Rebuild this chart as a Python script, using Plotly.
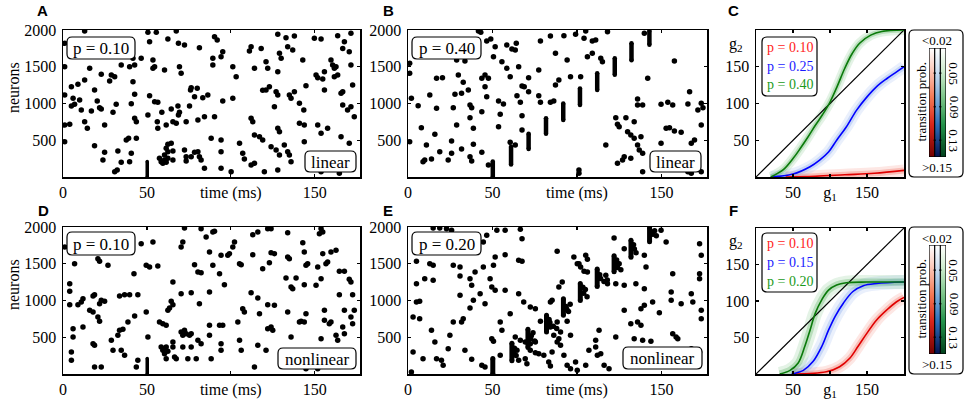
import plotly.graph_objects as go

W, H = 964, 399

# ---------------- data ----------------
A_spikes = [
(12.9,1986),(50.6,1968),(55.6,1968),(67.5,1986),(90.3,1909),(91.9,1864),(128,1941),(132.9,1896),(137.9,1918),(149.8,1887),(153.8,1877),(163.7,1923),(167.7,1841),(171.6,1955),(1,1819),(51.6,1841),(62.5,1877),(68.8,1819),(72.4,1796),(81.3,1760),(95.2,1705),(94.2,1637),(112.1,1773),(111.1,1714),(118.1,1750),(129,1683),(133.9,1773),(136.9,1728),(130,1614),(142.9,1592),(166.7,1750),(170.6,1705),(159.7,1592),
(41.7,1614),(46.6,1614),(53.6,1592),(54.6,1501),(53.6,1478),(89.3,1614),(89.3,1524),(121,1569),(122,1478),(160.7,1524),(162.7,1501),(161.7,1478),(171.6,1524),(1,1501),(15.9,1478),(34.7,1524),(39.7,1501),(42.7,1524),(60.5,1456),(69.4,1501),(70.4,1410),(101.2,1501),(114.1,1478),(128,1433),(103.2,1365),
(22.8,1397),(28.8,1388),(30.8,1365),(27.8,1306),(12.9,1320),(8.9,1261),(5,1229),(18.8,1184),(41.7,1297),(76.4,1215),(80,1206),(76,1184),(78.4,1093),(83.3,1079),(123,1229),(121,1184),(127,1161),(128,1116),(144.8,1243),(150.8,1388),(151.8,1351),(155.8,1433),(154.8,1333),(161.7,1365),(163.7,1388),(166.7,1161),(165.7,1138),(172.6,1252),
(1,1116),(6,1070),(6.9,989),(5,966),(9.9,1048),(10.9,912),(16.9,898),(20.4,1034),(21.8,943),(22.8,925),(29.8,880),(31.7,989),(42.7,1125),(40.7,998),(51.6,1107),(54.6,1025),(56.5,1016),(58.9,880),(64.5,925),(68.5,966),(69.4,880),(75.4,966),(86.3,1116),(95.2,1034),(101.2,1070),(119,1179),(126,957),(134.9,1116),(135.9,1070),(137.9,1161),(140.9,1002),(143.5,912),(155.8,1184),(166.7,980),(171.6,957),(169.6,912),
(1,707),(4,717),(12.9,753),(14.5,662),(24.8,707),(42.7,798),(43.7,753),(50.6,844),(56.2,753),(56.5,662),(61.5,707),(65.5,753),(67.5,730),(68.8,844),(73.4,753),(80.4,775),(84.3,821),(90.3,821),(112.1,798),(113.1,753),(128,662),(129,617),(140.9,730),(143.8,707),(151.8,707),(153.8,594),(157.7,662),(173.6,821),
(1,481),(18.8,426),(24.8,336),(32.7,354),(37.7,503),(39.1,526),(43.7,526),(61.5,390),(62.5,444),(64.5,458),(62.5,345),(65.5,354),(60.5,299),(72.4,367),(78.4,336),(80.4,345),(88.3,526),(94.2,503),(94.2,345),(105.2,458),(114.1,571),(117.1,549),(119,503),(124,413),(127,367),(129,299),(131.9,435),(133.9,345),(134.9,299),(143.8,481),(165.7,549),(170.6,458),
(23.8,231),(30.8,73),(32.3,95),(34.7,200),(40.7,322),(39.7,209),(57.5,254),(58.5,209),(60.5,231),(59.5,186),(61.5,200),(62.5,254),(65.5,231),(73.4,277),(73.4,218),(76.4,277),(81.3,277),(82.3,231),(84.3,118),(94.2,118),(100.2,73),(107.1,322),(108.1,245),(112.1,163),(114.1,186),(120,73),(128,95),(135.9,209),(153.8,73),(164.7,50),(170.6,141)
]
A_packets = [(50.2, 0, 210)]

B_spikes = [
(41.7,1986),(43.1,1968),(46.6,1850),(49,1877),(58.5,1796),(61.5,1741),(64.1,1819),(63.5,1728),(51.6,1773),(78.4,1850),(84.3,1918),(92.3,1923),(99.2,1941),(104.2,1887),(105.2,1986),(109.1,1850),(111.1,1864),(118.1,1977),(139.9,1955),(157.7,1578),(87.3,1683),(94.2,1592),(106.2,1637),(109.1,1683),(114.1,1614),(115.1,1569),(50.6,1637),(55.6,1569),(28.8,1592),(33.7,1578),(1,1546),(1,1410),
(29.8,1388),(45.6,1388),(43.7,1342),(47.6,1342),(58.5,1478),(65.5,1501),(60.5,1365),(71.4,1351),(77.4,1456),(89.3,1320),(87.3,1252),(96.2,1365),(102.2,1365),(141.9,1342),(16.9,1342),(20.4,1351),(32.7,1288),(35.7,1184),(45.6,1229),(67.5,1238),(68.8,1229),(71.4,1161),(77.4,1107),(84.3,1016),(86.3,1034),
(2,1070),(12.9,1116),(27.8,1125),(31.7,1138),(46.6,1093),(53.6,1034),(56.5,993),(64.5,1107),(66.5,1016),(78.4,1016),(166.7,1161),(135.9,1061),(138.9,980),(135.9,980),(149.8,989),(153.8,1016),(156.7,980),(165.7,993),(173.6,1002),(174.6,943),(171.6,912),
(6,970),(16.9,934),(26.8,943),(36.7,980),(37.7,943),(43.7,889),(54.6,853),(67.5,834),(36.7,807),(38.7,662),(53.6,685),(28.8,707),(7.9,671),(15.9,580),(25.8,490),(38.7,444),(31.7,381),(43.7,336),(60.5,472),(63.5,435),(67.5,639),(10.9,435),(18.8,345),(25.8,322),(9.9,231),(8.9,209),(13.9,245),(23.8,231),(36.7,277),(37.7,218),(47.6,163),
(117.1,435),(123,807),(124,717),(125,685),(129,807),(130,617),(133.9,753),(131.9,571),(133.9,526),(137.9,549),(135.9,435),(136.9,367),(138.9,322),(128,277),(124,186),(127,231),(131.9,254),(149.8,458),(167.7,458),(169.6,503),(154.8,671),(157.7,626),(161.7,608),(152.8,662),(173.6,707),(101.2,95),(101.2,50),(138.9,73),(165.7,73),(167.7,50),(173.6,73),(1,481)
]
B_packets = [(50.2,0,210),(61,170,410),(71.4,380,590),(81.7,590,800),(91.9,775,1000),
             (101.8,980,1205),(112,1185,1410),(122.4,1390,1615),(132.3,1590,1820),(142.9,1800,1990)]

D_spikes = [
(1,1728),(6.9,1501),(20.8,1569),(21.8,1533),(26.8,1478),(42.3,1365),(46.6,1773),(53.6,1796),(49.6,1478),(51.6,1456),(56.5,1469),(72.4,1986),(71.4,1796),(70.4,1728),(65.5,1252),(82.3,1977),(85.3,1864),(89.3,1932),(90.3,1941),(87.3,1660),(94.2,1614),(98.2,1614),(99.2,1637),(101.2,1728),(102.2,1796),(113.1,1896),(116.1,1932),(122,1977),(124,1977),(133.9,1923),(153.8,1977),(154.8,1932),(152.8,1909),(142.9,1787),(143.8,1660),(154.8,1637),(159.7,1660),(162.7,1683),(133.9,1592),(134.9,1569),(124,1651),(126,1637),(113.1,1624),
(78.4,1487),(80.4,1388),(82.3,1379),(89.3,1478),(93.3,1365),(96.2,1215),(105.2,1501),(106.2,1487),(119,1433),(123,1515),(132.9,1306),(138.9,1306),(135.9,1184),(136.9,1161),(144.8,1478),(145.8,1501),(151.8,1456),(150.8,1206),(143.8,1215),(156.7,1501),(157.7,1524),(164.7,1397),(167.7,1397),(170.6,1288),(171.6,1252),(153.8,1297),(164.7,1079),(172.6,1079),
(4,1229),(4,1125),(18.8,1079),(17.9,1061),(24.8,989),(22.8,1002),(21.8,957),(11.9,1025),(10.9,980),(8.9,943),(4,943),(33.7,1061),(36.7,1079),(39.7,1079),(44.6,1079),(64.5,989),(65.5,943),(70.4,1093),(76.4,1107),(87.3,1116),(81.3,957),(63.5,898),(62.5,866),(49.6,844),(112.1,1107),(116.1,1034),(122,943),(126,934),(133.9,844),(144.8,821),(155.8,866),(167.7,866),(173.6,866),(171.6,775),
(15.9,866),(17.9,844),(20.8,775),(21.8,717),(6,617),(11.9,639),(6,503),(38.7,707),(33.7,594),(32.7,526),(28.8,458),(35.7,608),(42.7,789),(57.5,707),(59.5,685),(61.5,662),(50.6,503),(72.4,594),(70.4,571),(71.4,526),(75.4,526),(73.4,549),(76.4,549),(87.3,662),(93.3,662),(95.2,662),(87.3,526),(104.2,707),(108.1,844),(107.1,889),(117.1,821),(122,617),(124,639),(125,594),(135.9,503),(141.9,717),(143.8,707),(140.9,707),(155.8,730),(158.7,685),(159.7,707),(166.7,639),(162.7,526),(167.7,549),(172.6,685),(163.7,458),(153.8,481),
(105.2,458),(106.2,322),(116.1,390),(121,322),(94.2,413),(80.4,458),(82.3,413),(65.5,435),(65.5,367),(71.4,367),(76.4,367),(58.5,367),(59.5,322),(60.5,277),(61.5,209),(61.5,367),(60,345),(62.5,308),(66.5,231),(67.5,209),(74.4,209),(79.4,209),(88.3,209),(94.2,322),(17.9,413),(18.8,390),(5,299),(5,186),(29.8,322),(34.7,322),(36.7,254),(44.6,186),(43.7,95),(18.8,95),(22.8,95),(114.1,95),(144.8,73),(151.8,73)
]
D_packets = [(50.2, 0, 210)]

E_spikes = [
(14.9,1986),(18.8,1986),(22.8,1977),(25.8,1955),(46.6,1887),(52.6,1955),(57.5,1955),(66.5,1968),(67.5,1841),(65.5,1546),(67.5,1533),(57.5,1624),(51.6,1592),(50.6,1478),(44.6,1796),(44.6,1456),(39.7,1388),(12.9,1501),(14.9,1478),(5,1533),(26.8,1478),(30.8,1456),(30.8,1333),(36.7,1297),(5,1229),(9.9,1297),(14.9,1274),(37.7,1206),(42.7,1093),(48.6,1297),(49.6,1184),(51.6,1138),(57.5,1138),
(45.6,957),(38.7,1002),(30.8,1070),(36.7,898),(32.7,753),(31.7,707),(26.8,707),(60.5,821),(54.6,707),(55.6,594),(65.5,1093),(68.5,980),(72.4,912),(75.4,889),(78.4,717),(85.3,1002),(84.3,980),(91.3,1252),(89.3,1184),(88.3,1669),(98.2,1592),(101.2,1501),(102.2,1456),(105.2,1614),(106.2,1560),(104.2,1397),(106.2,1388),(100.2,1501),
(122,1850),(128,1705),(124,1501),(128,1206),(117.1,1342),(118.1,1229),(123,1229),(134.9,1229),(139.9,1161),(140.9,1456),(139.9,1614),(152.8,1796),(149.8,1955),(156.7,1365),(155.8,1116),(161.7,957),(167.7,1093),(168.6,980),(172.6,1773),(173.6,1614),(172.6,1365),(172.6,1297),(173.6,866),(173.6,753),(155.8,1002),(144.8,980),(139.9,934),(148.8,834),(137.9,889),(128,866),(135.9,707),(137.9,662),(131.9,685),(133.9,481),(138.9,458),(143.8,444),(156.7,549),(158.7,503),(159.7,481),(167.7,345),(156.7,299),(172.6,299),
(5,980),(6.9,989),(3,775),(6.9,753),(13.9,594),(15.9,435),(24.8,526),(23.8,345),(8.9,209),(16.9,209),(19.8,186),(20.8,118),(3,299),(2,27),(33.7,322),(37.7,200),(43.7,118),(45.6,95),(49.6,481),(50.6,444),(54.6,254),
(63.5,503),(66.5,458),(69.4,435),(72.4,413),(75.4,435),(64.5,322),(65.5,186),(69.4,209),(70.4,141),(72.4,322),(75.4,290),(77.4,277),(80.4,254),(83.3,163),(84.3,109),(85.3,299),(88.3,435),(90.3,390),(92.3,254),(94.2,118),(96.2,73),(99.2,163),(100.2,50),(105.2,118),(107.1,322),(111.1,367),(112.1,254),(114.1,277),(116.1,118),(119,73),(89.3,481),(113.1,594),(123,503),(84.3,639),(86.3,526),(88.3,707),(94.2,717),(96.2,526),(90.3,571),(111.1,458),
(63,350),(64,250),(62.5,300),(73,520),(75,450),(74,560),(72.5,480),(84,700),(86,650),(88,620),(83.5,740),(94,880),(96,950),(95,850),(93.5,920),(104,1100),(106,1050),(105,1150),(103.5,1180),(114,1300),(116,1260),(118,1280),(113.5,1350),(124,1450),(126,1420),(125,1500),(123.5,1550),(134,1700),(135,1650),(133.5,1760),(145,1900),(147,1880),(146,1950),(144.5,1930)
]
E_packets = [(50.2,0,210),(61.5,180,420),(71,360,610),(82,570,800),(92,800,1025),
             (102,1000,1230),(112,1190,1430),(122,1390,1610),(132,1590,1820),(143,1800,1990)]

raster_xticks = [0, 50, 100, 150]
raster_xticktext = ['0', '50', 'time (ms)', '150']
raster_yticks = [500, 1000, 1500, 2000]

# g1 -> g2 transfer curves
diag = [0, 200]
C_red_g1 = [40, 80, 120, 160, 200]
C_red_g2 = [0, 1, 3, 5, 9]
C_blue_g1 = [20, 50, 73, 86, 98, 109, 122, 136, 150, 163, 177, 190, 200]
C_blue_g2 = [0, 4, 14, 23, 34, 50, 68, 91, 109, 123, 134, 143, 150]
C_green_g1 = [20, 37, 50, 60, 70, 80, 90, 100, 110, 120, 130, 140, 155, 170, 200]
C_green_g2 = [0, 10, 25, 39, 54, 70, 85, 102, 124, 148, 168, 182, 193, 198, 200]
C_labels = ['p = 0.10', 'p = 0.25', 'p = 0.40']

F_red_g1 = [50, 95, 113, 127, 138, 150, 163, 177, 190, 200]
F_red_g2 = [0, 3, 10, 22, 38, 56, 74, 88, 99, 105]
F_blue_g1 = [48, 64, 77, 89, 98, 107, 118, 131, 145, 163, 200]
F_blue_g2 = [0, 5, 17, 38, 60, 79, 97, 113, 121, 124, 126]
F_green_g1 = [32, 46, 57, 66, 73, 80, 89, 98, 109, 122, 150, 200]
F_green_g2 = [0, 5, 15, 38, 60, 83, 102, 115, 122, 125, 126, 126]
F_labels = ['p = 0.10', 'p = 0.15', 'p = 0.20']

g_ticks = [50, 100, 150]
g_xticktext = ['50', 'g<sub>1</sub>', '150']
g_yticktext = ['50', '100', '150']

cbar_levels = [0.02, 0.03, 0.04, 0.05, 0.06, 0.07, 0.08, 0.09, 0.10, 0.11, 0.12, 0.13, 0.14, 0.15]
cbar_ticks = [0.05, 0.09, 0.13]
cbar_ticktext = ['0.05', '0.09', '0.13']

# ---------------- styling ----------------
SERIF = "Liberation Serif, Times New Roman, serif"
SANS = "Liberation Sans, Arial, sans-serif"
TICKFONT = dict(family=SERIF, size=16, color='black')

RED, BLUE, GREEN = '#e00000', '#0000ff', '#0a7a0a'
RED_T, BLUE_T, GREEN_T = '#ff1a1a', '#1a1aff', '#1a9a1a'

red_scale = [[0, '#ffffff'], [0.2, '#fcc8b8'], [0.45, '#f37a55'], [0.7, '#d8261a'], [1, '#6e0000']]
blue_scale = [[0, '#ffffff'], [0.2, '#cfe0f2'], [0.45, '#7fb0dc'], [0.7, '#2c6eb8'], [1, '#03104e']]
green_scale = [[0, '#ffffff'], [0.2, '#cfeccf'], [0.45, '#7cc589'], [0.7, '#23924a'], [1, '#003d1a']]


def px(x):
    return x / W


def py(y):
    return 1 - y / H


def rrect(x0, y0, x1, y1, r=5, lw=1.2, layer='above'):
    p = (f"M {px(x0+r)},{py(y0)} L {px(x1-r)},{py(y0)} Q {px(x1)},{py(y0)} {px(x1)},{py(y0+r)} "
         f"L {px(x1)},{py(y1-r)} Q {px(x1)},{py(y1)} {px(x1-r)},{py(y1)} "
         f"L {px(x0+r)},{py(y1)} Q {px(x0)},{py(y1)} {px(x0)},{py(y1-r)} "
         f"L {px(x0)},{py(y0+r)} Q {px(x0)},{py(y0)} {px(x0+r)},{py(y0)} Z")
    return dict(type='path', xref='paper', yref='paper', path=p, fillcolor='white',
                line=dict(color='black', width=lw), layer=layer)


fig = go.Figure()
shapes = []
annotations = []


def ann(text, x, y, size=16, color='black', family=SERIF, xanchor='center', angle=0, yref='paper'):
    annotations.append(dict(text=text, x=px(x), y=(py(y) if yref == 'paper' else y), xref='paper', yref=yref,
                            showarrow=False, xanchor=xanchor, yanchor='middle', textangle=angle,
                            font=dict(family=family, size=size, color=color)))


def axis_common():
    return dict(showline=True, linecolor='black', linewidth=1.5, mirror='ticks', ticks='inside',
                ticklen=3, tickwidth=1.2, tickcolor='black', showgrid=False, zeroline=False,
                tickfont=TICKFONT, fixedrange=True, automargin=False)


def raster(i, dom_x, dom_y, spikes, packets, pw):
    xn = 'x' if i == 1 else f'x{i}'
    yn = 'y' if i == 1 else f'y{i}'
    fig.add_trace(go.Scatter(x=[s[0] for s in spikes], y=[s[1] for s in spikes], mode='markers',
                             marker=dict(size=5.5, color='black'), xaxis=xn, yaxis=yn, hoverinfo='skip'))
    for t, n0, n1 in packets:
        fig.add_trace(go.Scatter(x=[t, t], y=[n0, n1], mode='lines+markers',
                                 line=dict(color='black', width=pw), marker=dict(size=pw, color='black'),
                                 xaxis=xn, yaxis=yn, hoverinfo='skip'))
    xa = axis_common()
    xa.update(domain=dom_x, range=[0, 177], tickvals=raster_xticks, ticktext=raster_xticktext,
              anchor=yn, ticklabelstandoff=0)
    ya = axis_common()
    ya.update(domain=dom_y, range=[0, 2000], tickvals=raster_yticks, anchor=xn, ticklabelstandoff=2)
    fig.update_layout(**{('xaxis' if i == 1 else f'xaxis{i}'): xa,
                         ('yaxis' if i == 1 else f'yaxis{i}'): ya})


def transfer(i, dom_x, dom_y, curves):
    xn, yn = f'x{i}', f'y{i}'
    for g1, g2, col, band, bw in curves:
        fig.add_trace(go.Scatter(x=g1, y=g2, mode='lines', line=dict(color=band.format(0.13), width=bw, shape='spline'),
                                 xaxis=xn, yaxis=yn, hoverinfo='skip'))
        fig.add_trace(go.Scatter(x=g1, y=g2, mode='lines', line=dict(color=band.format(0.25), width=bw * 0.5, shape='spline'),
                                 xaxis=xn, yaxis=yn, hoverinfo='skip'))
    fig.add_trace(go.Scatter(x=diag, y=diag, mode='lines', line=dict(color='black', width=1.2),
                             xaxis=xn, yaxis=yn, hoverinfo='skip'))
    for g1, g2, col, band, bw in curves:
        fig.add_trace(go.Scatter(x=g1, y=g2, mode='lines', line=dict(color=col, width=1.6, shape='spline'),
                                 xaxis=xn, yaxis=yn, hoverinfo='skip'))
    xa = axis_common()
    xa.update(domain=dom_x, range=[0, 200], tickvals=g_ticks, ticktext=g_xticktext, anchor=yn,
              ticklabelstandoff=0)
    ya = axis_common()
    ya.update(domain=dom_y, range=[0, 200], tickvals=g_ticks, ticktext=g_yticktext, anchor=xn,
              ticklabelstandoff=2)
    fig.update_layout(**{f'xaxis{i}': xa, f'yaxis{i}': ya})


def cbar(i, dom_x, dom_y):
    xn, yn = f'x{i}', f'y{i}'
    for k, scale in enumerate([red_scale, blue_scale, green_scale]):
        fig.add_trace(go.Heatmap(x=[k], y=cbar_levels, z=[[v] for v in cbar_levels], colorscale=scale,
                                 zmin=0.02, zmax=0.15, showscale=False, zsmooth='best',
                                 xaxis=xn, yaxis=yn, hoverinfo='skip'))
    fig.update_layout(**{
        f'xaxis{i}': dict(domain=dom_x, range=[-0.5, 2.5], showticklabels=False, showgrid=False,
                          zeroline=False, showline=False, ticks='', anchor=yn, fixedrange=True,
                          automargin=False),
        f'yaxis{i}': dict(domain=dom_y, range=[0.15, 0.02], showticklabels=False, showgrid=False,
                          zeroline=False, showline=False, ticks='', anchor=xn, fixedrange=True,
                          automargin=False)})
    for v, t in zip(cbar_ticks, cbar_ticktext):
        ann(t, 954, v, size=13, angle=90, yref=yn)
    for xs in [-0.5, 0.5, 1.5, 2.5]:
        shapes.append(dict(type='line', xref=xn, yref=yn, x0=xs, x1=xs, y0=0.02, y1=0.15,
                           line=dict(color='black', width=1.2), layer='above'))
    for yv in [0.02, 0.15]:
        shapes.append(dict(type='line', xref=xn, yref=yn, x0=-0.5, x1=2.5, y0=yv, y1=yv,
                           line=dict(color='black', width=1.2), layer='above'))
    for yv in cbar_ticks:
        for xs in [0.5, 1.5]:
            shapes.append(dict(type='line', xref=xn, yref=yn, x0=xs - 0.18, x1=xs + 0.18, y0=yv, y1=yv,
                               line=dict(color='black', width=1.5), layer='above'))


# domains (paper fractions from pixel geometry)
XA = [px(63), px(360)]
XB = [px(408), px(707)]
XC = [px(756), px(904)]
YTOP = [py(177), py(30)]
YBOT = [py(374), py(227)]
YF = [py(374), py(228)]

# colorbar frames go below the heatmaps
shapes.append(rrect(909, 30, 963, 177, layer='below'))
shapes.append(rrect(909, 227, 963, 374, layer='below'))

raster(1, XA, YTOP, A_spikes, A_packets, 3.5)
raster(2, XB, YTOP, B_spikes, B_packets, 4.5)
raster(4, XA, YBOT, D_spikes, D_packets, 3.5)
raster(5, XB, YBOT, E_spikes, E_packets, 5)

band_r = 'rgba(240,70,50,{})'
band_b = 'rgba(90,140,230,{})'
band_g = 'rgba(50,160,60,{})'
transfer(3, XC, YTOP, [(C_red_g1, C_red_g2, RED, band_r, 12),
                       (C_blue_g1, C_blue_g2, BLUE, band_b, 12),
                       (C_green_g1, C_green_g2, GREEN, band_g, 10)])
transfer(6, XC, YF, [(F_red_g1, F_red_g2, RED, band_r, 12),
                     (F_blue_g1, F_blue_g2, BLUE, band_b, 14),
                     (F_green_g1, F_green_g2, GREEN, band_g, 14)])

cbar(7, [px(929), px(946)], [py(157), py(48)])
cbar(8, [px(929), px(946)], [py(354), py(245)])

# boxes & labels in raster panels
for (x0, y0, x1, y1, txt) in [(67, 37, 135, 59, 'p = 0.10'), (412, 37, 481, 59, 'p = 0.40'),
                              (67, 232, 135, 255, 'p = 0.10'), (412, 232, 481, 255, 'p = 0.20')]:
    shapes.append(rrect(x0, y0, x1, y1))
    ann(txt, (x0 + x1) / 2, (y0 + y1) / 2 + 0.5, size=17)
for (x0, y0, x1, y1, txt) in [(305, 151, 356, 172, 'linear'), (650, 151, 701, 172, 'linear'),
                              (278, 348, 356, 369, 'nonlinear'), (623, 347, 702, 369, 'nonlinear')]:
    shapes.append(rrect(x0, y0, x1, y1))
    ann(txt, (x0 + x1) / 2, (y0 + y1) / 2 + 0.5, size=17)

# legend boxes in transfer panels
for (y0, labels) in [(37, C_labels), (233, F_labels)]:
    shapes.append(rrect(762, y0, 817, y0 + 59))
    for k, (lab, col) in enumerate(zip(labels, [RED_T, BLUE_T, GREEN_T])):
        ann(lab, 765, y0 + 10 + k * 19, size=14, color=col, xanchor='left')

# colorbar labels
for (s0, s1) in [(48, 157), (245, 354)]:
    ann('&lt;0.02', 937, s0 - 7, size=13)
    ann('&gt;0.15', 937, s1 + 10, size=13)
    ann('transition prob.', 921, (s0 + s1) / 2, size=13, angle=-90)

# axis titles / labels
ann('neurons', 13, 88, size=16, angle=-90)
ann('neurons', 13, 285, size=16, angle=-90)
ann('g<sub>2</sub>', 736, 44, size=16)
ann('g<sub>2</sub>', 736, 241, size=16)

# panel letters
for lab, x, y in [('A', 42, 10), ('B', 388, 10), ('C', 733, 10), ('D', 43, 210), ('E', 388, 210), ('F', 733, 210)]:
    ann(f'<b>{lab}</b>', x, y, size=15, family=SANS)

fig.update_layout(width=W, height=H, margin=dict(l=0, r=0, t=0, b=0, autoexpand=False), showlegend=False,
                  paper_bgcolor='white', plot_bgcolor='rgba(0,0,0,0)', shapes=shapes,
                  annotations=annotations)
fig.write_html("out.html", config={'displayModeBar': False, 'staticPlot': True},
               post_script="document.body.style.margin='0px';document.body.style.padding='0px';")
